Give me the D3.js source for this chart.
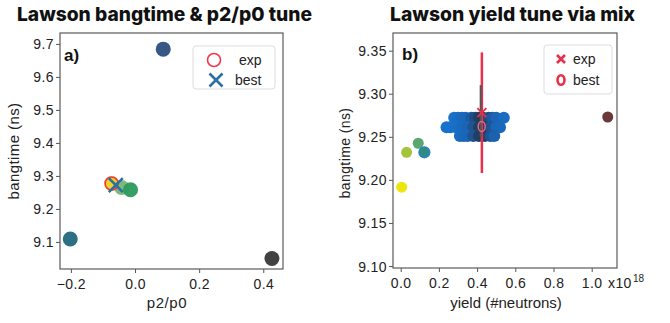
<!DOCTYPE html>
<html>
<head>
<meta charset="utf-8">
<script src="https://cdn.jsdelivr.net/npm/d3@7/dist/d3.min.js"></script>
<style>
  body { margin: 0; background: #fff; }
  svg text { font-family: "Liberation Sans", Arial, sans-serif; fill: #222; }
  .title { font-family: Inter, "Open Sans", sans-serif !important; font-weight: 800; fill: #111 !important; }
  .tick text { font-size: 14px; letter-spacing: 0.4px; }
</style>
</head>
<body>
<div id="chart"></div>
<script>
// panel a) Lawson bangtime & p2/p0 tune
const aP2 = [0.088, -0.202, 0.427, -0.073, -0.042, -0.014];
const aBang = [9.684, 9.109, 9.05, 9.277, 9.265, 9.258];
const aColors = ["#2c4f7c", "#22687d", "#383838", "#f0cf1e", "#5fa65a", "#2c9a5c"];
const aExp = { p2: -0.073, bang: 9.277 };
const aBest = { p2: -0.06, bang: 9.272 };
const aXTicks = [-0.2, 0.0, 0.2, 0.4];
const aYTicks = [9.1, 9.2, 9.3, 9.4, 9.5, 9.6, 9.7];

// panel b) Lawson yield tune via mix (yield in 1e18 neutrons)
const bYield = [0.005, 0.031, 0.092, 0.124, 1.084];
const bBang = [9.1915, 9.232, 9.2425, 9.232, 9.273];
const bColors = ["#ece60c", "#a5c43c", "#5aa870", "#2d8b88", "#6a3838"];
const clusterTop = [0.28, 0.30, 0.32, 0.34, 0.37, 0.39, 0.41, 0.43, 0.46, 0.48, 0.50, 0.54];
const clusterMid = [0.24, 0.26, 0.29, 0.32, 0.35, 0.38, 0.41, 0.44, 0.47, 0.50, 0.52];
const clusterBot = [0.31, 0.33, 0.35, 0.38, 0.41, 0.44, 0.47, 0.49];
const clusterRows = [9.272, 9.261, 9.251];
const bExp = { yield: 0.425, bang: 9.278, lo: 9.208, hi: 9.348 };
const bBest = { yield: 0.424, bang: 9.262, lo: 9.25, hi: 9.31 };
const bXTicks = [0.0, 0.2, 0.4, 0.6, 0.8, 1.0];
const bYTicks = [9.10, 9.15, 9.20, 9.25, 9.30, 9.35];

const W = 670, H = 323;
const svg = d3.select("#chart").append("svg").attr("width", W).attr("height", H);

function frame(g, x, y, xt, yt, xfmt, yfmt) {
  const [x0, x1] = x.range(), [y0, y1] = y.range();
  g.append("g").attr("transform", "translate(0," + y0 + ")")
    .call(d3.axisBottom(x).tickValues(xt).tickFormat(xfmt).tickSize(4).tickSizeOuter(0))
    .call(a => a.select(".domain").remove())
    .call(a => a.selectAll(".tick line").attr("stroke", "#555"))
    .call(a => a.selectAll(".tick text").attr("y", 20).attr("dy", 0));
  g.append("g").attr("transform", "translate(" + x0 + ",0)")
    .call(d3.axisLeft(y).tickValues(yt).tickFormat(yfmt).tickSize(4).tickSizeOuter(0))
    .call(a => a.select(".domain").remove())
    .call(a => a.selectAll(".tick line").attr("stroke", "#555"))
    .call(a => a.selectAll(".tick text").attr("x", -6).attr("dy", "0.36em"));
  g.append("rect").attr("x", x0).attr("y", y1).attr("width", x1 - x0).attr("height", y0 - y1)
    .attr("fill", "none").attr("stroke", "#5a5a5a").attr("stroke-width", 1.2);
}

function cross(g, cx, cy, s, color, w) {
  g.append("path").attr("d", `M${cx - s},${cy - s}L${cx + s},${cy + s}M${cx - s},${cy + s}L${cx + s},${cy - s}`)
    .attr("stroke", color).attr("stroke-width", w).attr("fill", "none");
}

// ---------- panel a ----------
const ga = svg.append("g");
const xa = d3.scaleLinear().domain([-0.234, 0.4615]).range([60, 283]);
const ya = d3.scaleLinear().domain([9.018, 9.733]).range([269, 33]);

ga.selectAll("circle.pt").data(aP2).enter().append("circle")
  .attr("class", "pt")
  .attr("cx", d => xa(d))
  .attr("cy", (d, i) => ya(aBang[i]))
  .attr("r", 7.5)
  .attr("fill", (d, i) => aColors[i])
  .attr("opacity", (d, i) => i === 4 ? 0.8 : 0.95);

ga.append("circle").attr("cx", xa(aExp.p2)).attr("cy", ya(aExp.bang)).attr("r", 6.5)
  .attr("fill", "none").attr("stroke", "#f0384c").attr("stroke-width", 1.6);
cross(ga, xa(aBest.p2), ya(aBest.bang), 7, "#2b6fa3", 2.6);

frame(ga, xa, ya, aXTicks, aYTicks, d3.format(".1f"), d3.format(".1f"));

ga.append("text").attr("x", 64).attr("y", 61).attr("font-size", 17).attr("font-weight", "bold").style("fill", "#111").text("a)");

// legend a
ga.append("rect").attr("x", 193).attr("y", 46).attr("width", 82).attr("height", 43).attr("rx", 3)
  .attr("fill", "#fff").attr("stroke", "#ddd");
ga.append("circle").attr("cx", 214).attr("cy", 60).attr("r", 6.5)
  .attr("fill", "none").attr("stroke", "#f0384c").attr("stroke-width", 1.6);
cross(ga, 216, 80, 6.5, "#2b6fa3", 2.6);
ga.append("text").attr("x", 239).attr("y", 65).attr("font-size", 14).text("exp");
ga.append("text").attr("x", 235).attr("y", 85).attr("font-size", 14).text("best");

ga.append("text").attr("class", "title").attr("x", 17).attr("y", 21).attr("font-size", 19)
  .attr("textLength", 295).attr("lengthAdjust", "spacingAndGlyphs").text("Lawson bangtime & p2/p0 tune");
ga.append("text").attr("x", 167).attr("y", 308).attr("font-size", 15).attr("text-anchor", "middle")
  .attr("letter-spacing", 0.6).text("p2/p0");
ga.append("text").attr("transform", "translate(19,151) rotate(-90)").attr("font-size", 15)
  .attr("letter-spacing", 0.4).attr("text-anchor", "middle").text("bangtime (ns)");

// ---------- panel b ----------
const gb = svg.append("g");
const xb = d3.scaleLinear().domain([-0.0403, 1.1325]).range([393, 617]);
const yb = d3.scaleLinear().domain([9.0977, 9.3705]).range([268, 33]);

gb.selectAll("circle.pt").data(bYield).enter().append("circle")
  .attr("class", "pt")
  .attr("cx", d => xb(d))
  .attr("cy", (d, i) => yb(bBang[i]))
  .attr("r", 5.5)
  .attr("fill", (d, i) => bColors[i])
  .attr("stroke", (d, i) => i === 3 ? "#2a7fc0" : "none")
  .attr("stroke-width", 1.2);

const cluster = [];
[clusterTop, clusterMid, clusterBot].forEach((row, r) => row.forEach(v => cluster.push({ y: v, b: clusterRows[r] })));
const shade = d3.scaleLinear().domain([0, 0.03, 0.07, 0.15]).range(["#22344c", "#1f4a7c", "#1a64b4", "#1872cc"]).clamp(true);
gb.selectAll("circle.cl").data(cluster).enter().append("circle")
  .attr("class", "cl")
  .attr("cx", d => xb(d.y))
  .attr("cy", d => yb(d.b))
  .attr("r", 6)
  .attr("fill", d => shade(Math.abs(d.y - bExp.yield)));

// error bars
gb.append("line").attr("x1", xb(bExp.yield)).attr("x2", xb(bExp.yield))
  .attr("y1", yb(bExp.lo)).attr("y2", yb(bExp.hi)).attr("stroke", "#e8304a").attr("stroke-width", 2.5);
gb.append("line").attr("x1", xb(bBest.yield) - 1).attr("x2", xb(bBest.yield) - 1)
  .attr("y1", yb(bBest.lo)).attr("y2", yb(bBest.hi)).attr("stroke", "#555").attr("stroke-width", 2);
cross(gb, xb(bExp.yield), yb(bExp.bang), 4.5, "#e8304a", 1.8);
gb.append("ellipse").attr("cx", xb(bBest.yield)).attr("cy", yb(bBest.bang)).attr("rx", 3.5).attr("ry", 5)
  .attr("fill", "none").attr("stroke", "#e86a82").attr("stroke-width", 1.4);

frame(gb, xb, yb, bXTicks, bYTicks, d3.format(".1f"), d3.format(".2f"));

gb.append("text").attr("x", 608).attr("y", 288).attr("font-size", 14).attr("letter-spacing", 0.4).text("x10");
gb.append("text").attr("x", 633).attr("y", 282).attr("font-size", 10).text("18");

gb.append("text").attr("x", 402).attr("y", 60).attr("font-size", 17).attr("font-weight", "bold").style("fill", "#111").text("b)");

// legend b
gb.append("rect").attr("x", 544).attr("y", 45).attr("width", 68).attr("height", 49).attr("rx", 3)
  .attr("fill", "#fff").attr("stroke", "#ddd");
cross(gb, 561, 59, 4, "#e8304a", 2.6);
gb.append("ellipse").attr("cx", 561).attr("cy", 80).attr("rx", 3.5).attr("ry", 4.8)
  .attr("fill", "none").attr("stroke", "#e8304a").attr("stroke-width", 2.6);
gb.append("text").attr("x", 573).attr("y", 64).attr("font-size", 14).text("exp");
gb.append("text").attr("x", 573).attr("y", 85).attr("font-size", 14).text("best");

gb.append("text").attr("class", "title").attr("x", 390).attr("y", 21).attr("font-size", 19)
  .attr("textLength", 245).attr("lengthAdjust", "spacingAndGlyphs").text("Lawson yield tune via mix");
gb.append("text").attr("x", 506).attr("y", 308).attr("font-size", 15).attr("text-anchor", "middle")
  .text("yield (#neutrons)");
gb.append("text").attr("transform", "translate(350,153) rotate(-90)").attr("font-size", 14)
  .attr("letter-spacing", 0.4).attr("text-anchor", "middle").text("bangtime (ns)");
</script>
</body>
</html>
